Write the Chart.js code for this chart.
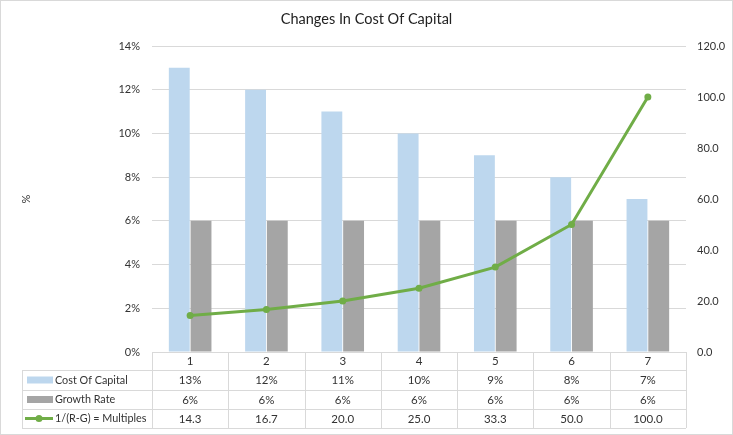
<!DOCTYPE html>
<html>
<head>
<meta charset="utf-8">
<script src="https://cdn.jsdelivr.net/npm/chart.js@4.4.1/dist/chart.umd.min.js"></script>
<style>
  html, body { margin: 0; padding: 0; background: #ffffff; }
  #wrap { width: 733px; height: 435px; }
</style>
</head>
<body>
<div id="wrap"><canvas id="c" width="733" height="435"></canvas></div>
<script>
const categories = ['1', '2', '3', '4', '5', '6', '7'];
const costOfCapital = [13, 12, 11, 10, 9, 8, 7];
const growthRate = [6, 6, 6, 6, 6, 6, 6];
const multiples = [14.3, 16.7, 20.0, 25.0, 33.3, 50.0, 100.0];
const seriesNames = ['Cost Of Capital', 'Growth Rate', '1/(R-G) = Multiples'];
const chartTitle = 'Changes In Cost Of Capital';
const leftAxisTitle = '%';

const FONT = 'Lato, "Noto Sans", sans-serif';
const TEXT = '#333333';
const GRID = '#d9d9d9';
const BLUE = '#BDD7EE';
const GRAY = '#A5A5A5';
const GREEN = '#70AD47';

const tablePlugin = {
  id: 'dataTable',
  beforeDraw(chart) {
    const ctx = chart.ctx;
    ctx.save();
    ctx.fillStyle = '#ffffff';
    ctx.fillRect(0, 0, chart.width, chart.height);
    ctx.restore();
  },
  afterDraw(chart) {
    const ctx = chart.ctx;
    const area = chart.chartArea;
    const xs = chart.scales.x;
    const n = categories.length;
    const cw = (area.right - area.left) / n;
    const rows = [area.bottom, area.bottom + 18, area.bottom + 38, area.bottom + 57, area.bottom + 76];
    const leftX = 22;
    ctx.save();
    ctx.strokeStyle = GRID;
    ctx.lineWidth = 1;
    ctx.beginPath();
    ctx.moveTo(area.left, rows[0] + 0.5); ctx.lineTo(area.right, rows[0] + 0.5);
    for (let r = 1; r < rows.length; r++) {
      ctx.moveTo(leftX, Math.round(rows[r]) + 0.5); ctx.lineTo(area.right, Math.round(rows[r]) + 0.5);
    }
    for (let i = 0; i <= n; i++) {
      const x = Math.round(area.left + i * cw) + 0.5;
      ctx.moveTo(x, rows[0]); ctx.lineTo(x, rows[4]);
    }
    ctx.moveTo(leftX + 0.5, rows[1]); ctx.lineTo(leftX + 0.5, rows[4]);
    ctx.stroke();

    ctx.strokeRect(0.5, 0.5, chart.width - 1, chart.height - 1);

    ctx.fillStyle = TEXT;
    ctx.font = '11.5px ' + FONT;
    ctx.textAlign = 'center';
    ctx.textBaseline = 'middle';
    const rowVals = [
      categories,
      costOfCapital.map(v => v + '%'),
      growthRate.map(v => v + '%'),
      multiples.map(v => v.toFixed(1))
    ];
    for (let r = 0; r < 4; r++) {
      const cy = (rows[r] + rows[r + 1]) / 2 + 0.5;
      for (let i = 0; i < n; i++) {
        ctx.fillText(rowVals[r][i], xs.getPixelForValue(i), cy);
      }
    }
    ctx.font = '10.8px ' + FONT;
    for (let r = 1; r < 4; r++) {
      const cy = (rows[r] + rows[r + 1]) / 2;
      if (r === 1 || r === 2) {
        ctx.fillStyle = r === 1 ? BLUE : GRAY;
        ctx.fillRect(27, cy - 3.5, 26, 7);
      } else {
        ctx.strokeStyle = GREEN;
        ctx.lineWidth = 3;
        ctx.beginPath();
        ctx.moveTo(25, cy); ctx.lineTo(53, cy);
        ctx.stroke();
        ctx.fillStyle = GREEN;
        ctx.beginPath();
        ctx.arc(39, cy, 3.5, 0, Math.PI * 2);
        ctx.fill();
      }
      ctx.fillStyle = TEXT;
      ctx.textAlign = 'left';
      ctx.fillText(seriesNames[r - 1], 55, cy + 0.5);
    }
    ctx.restore();
  }
};

new Chart(document.getElementById('c'), {
  type: 'bar',
  data: {
    labels: categories,
    datasets: [
      {
        type: 'line',
        label: seriesNames[2],
        data: multiples,
        yAxisID: 'y1',
        borderColor: GREEN,
        backgroundColor: GREEN,
        borderWidth: 3,
        pointRadius: 3.5,
        pointBackgroundColor: GREEN,
        pointBorderWidth: 0,
        tension: 0,
        order: 0
      },
      {
        label: seriesNames[0],
        data: costOfCapital,
        backgroundColor: BLUE,
        yAxisID: 'y',
        categoryPercentage: 0.57,
        barPercentage: 0.96,
        order: 1
      },
      {
        label: seriesNames[1],
        data: growthRate,
        backgroundColor: GRAY,
        yAxisID: 'y',
        categoryPercentage: 0.57,
        barPercentage: 0.96,
        order: 1
      }
    ]
  },
  options: {
    responsive: false,
    animation: false,
    layout: { padding: { left: 0, right: 0, top: 0, bottom: 83 } },
    plugins: {
      legend: { display: false },
      tooltip: { enabled: false },
      title: {
        display: true,
        text: chartTitle,
        color: '#222222',
        font: { family: FONT, size: 14.5, weight: 'normal' },
        padding: { top: 10.7, bottom: 17.9 }
      }
    },
    scales: {
      x: {
        display: false,
        offset: true
      },
      y: {
        position: 'left',
        min: 0,
        max: 14,
        ticks: {
          stepSize: 2,
          padding: 12,
          color: TEXT,
          font: { family: FONT, size: 11 },
          callback: v => v + '%'
        },
        grid: { color: GRID, drawTicks: false },
        border: { display: false },
        title: {
          display: true,
          text: leftAxisTitle,
          color: TEXT,
          font: { family: FONT, size: 11 },
          padding: { top: 20, bottom: 0 }
        },
        afterFit: s => { s.width = 152; }
      },
      y1: {
        position: 'right',
        min: 0,
        max: 120,
        ticks: {
          stepSize: 20,
          padding: 11,
          color: TEXT,
          font: { family: FONT, size: 11 },
          callback: v => v.toFixed(1)
        },
        grid: { display: false, drawTicks: false },
        border: { display: false },
        afterFit: s => { s.width = 47; }
      }
    }
  },
  plugins: [tablePlugin]
});
</script>
</body>
</html>
